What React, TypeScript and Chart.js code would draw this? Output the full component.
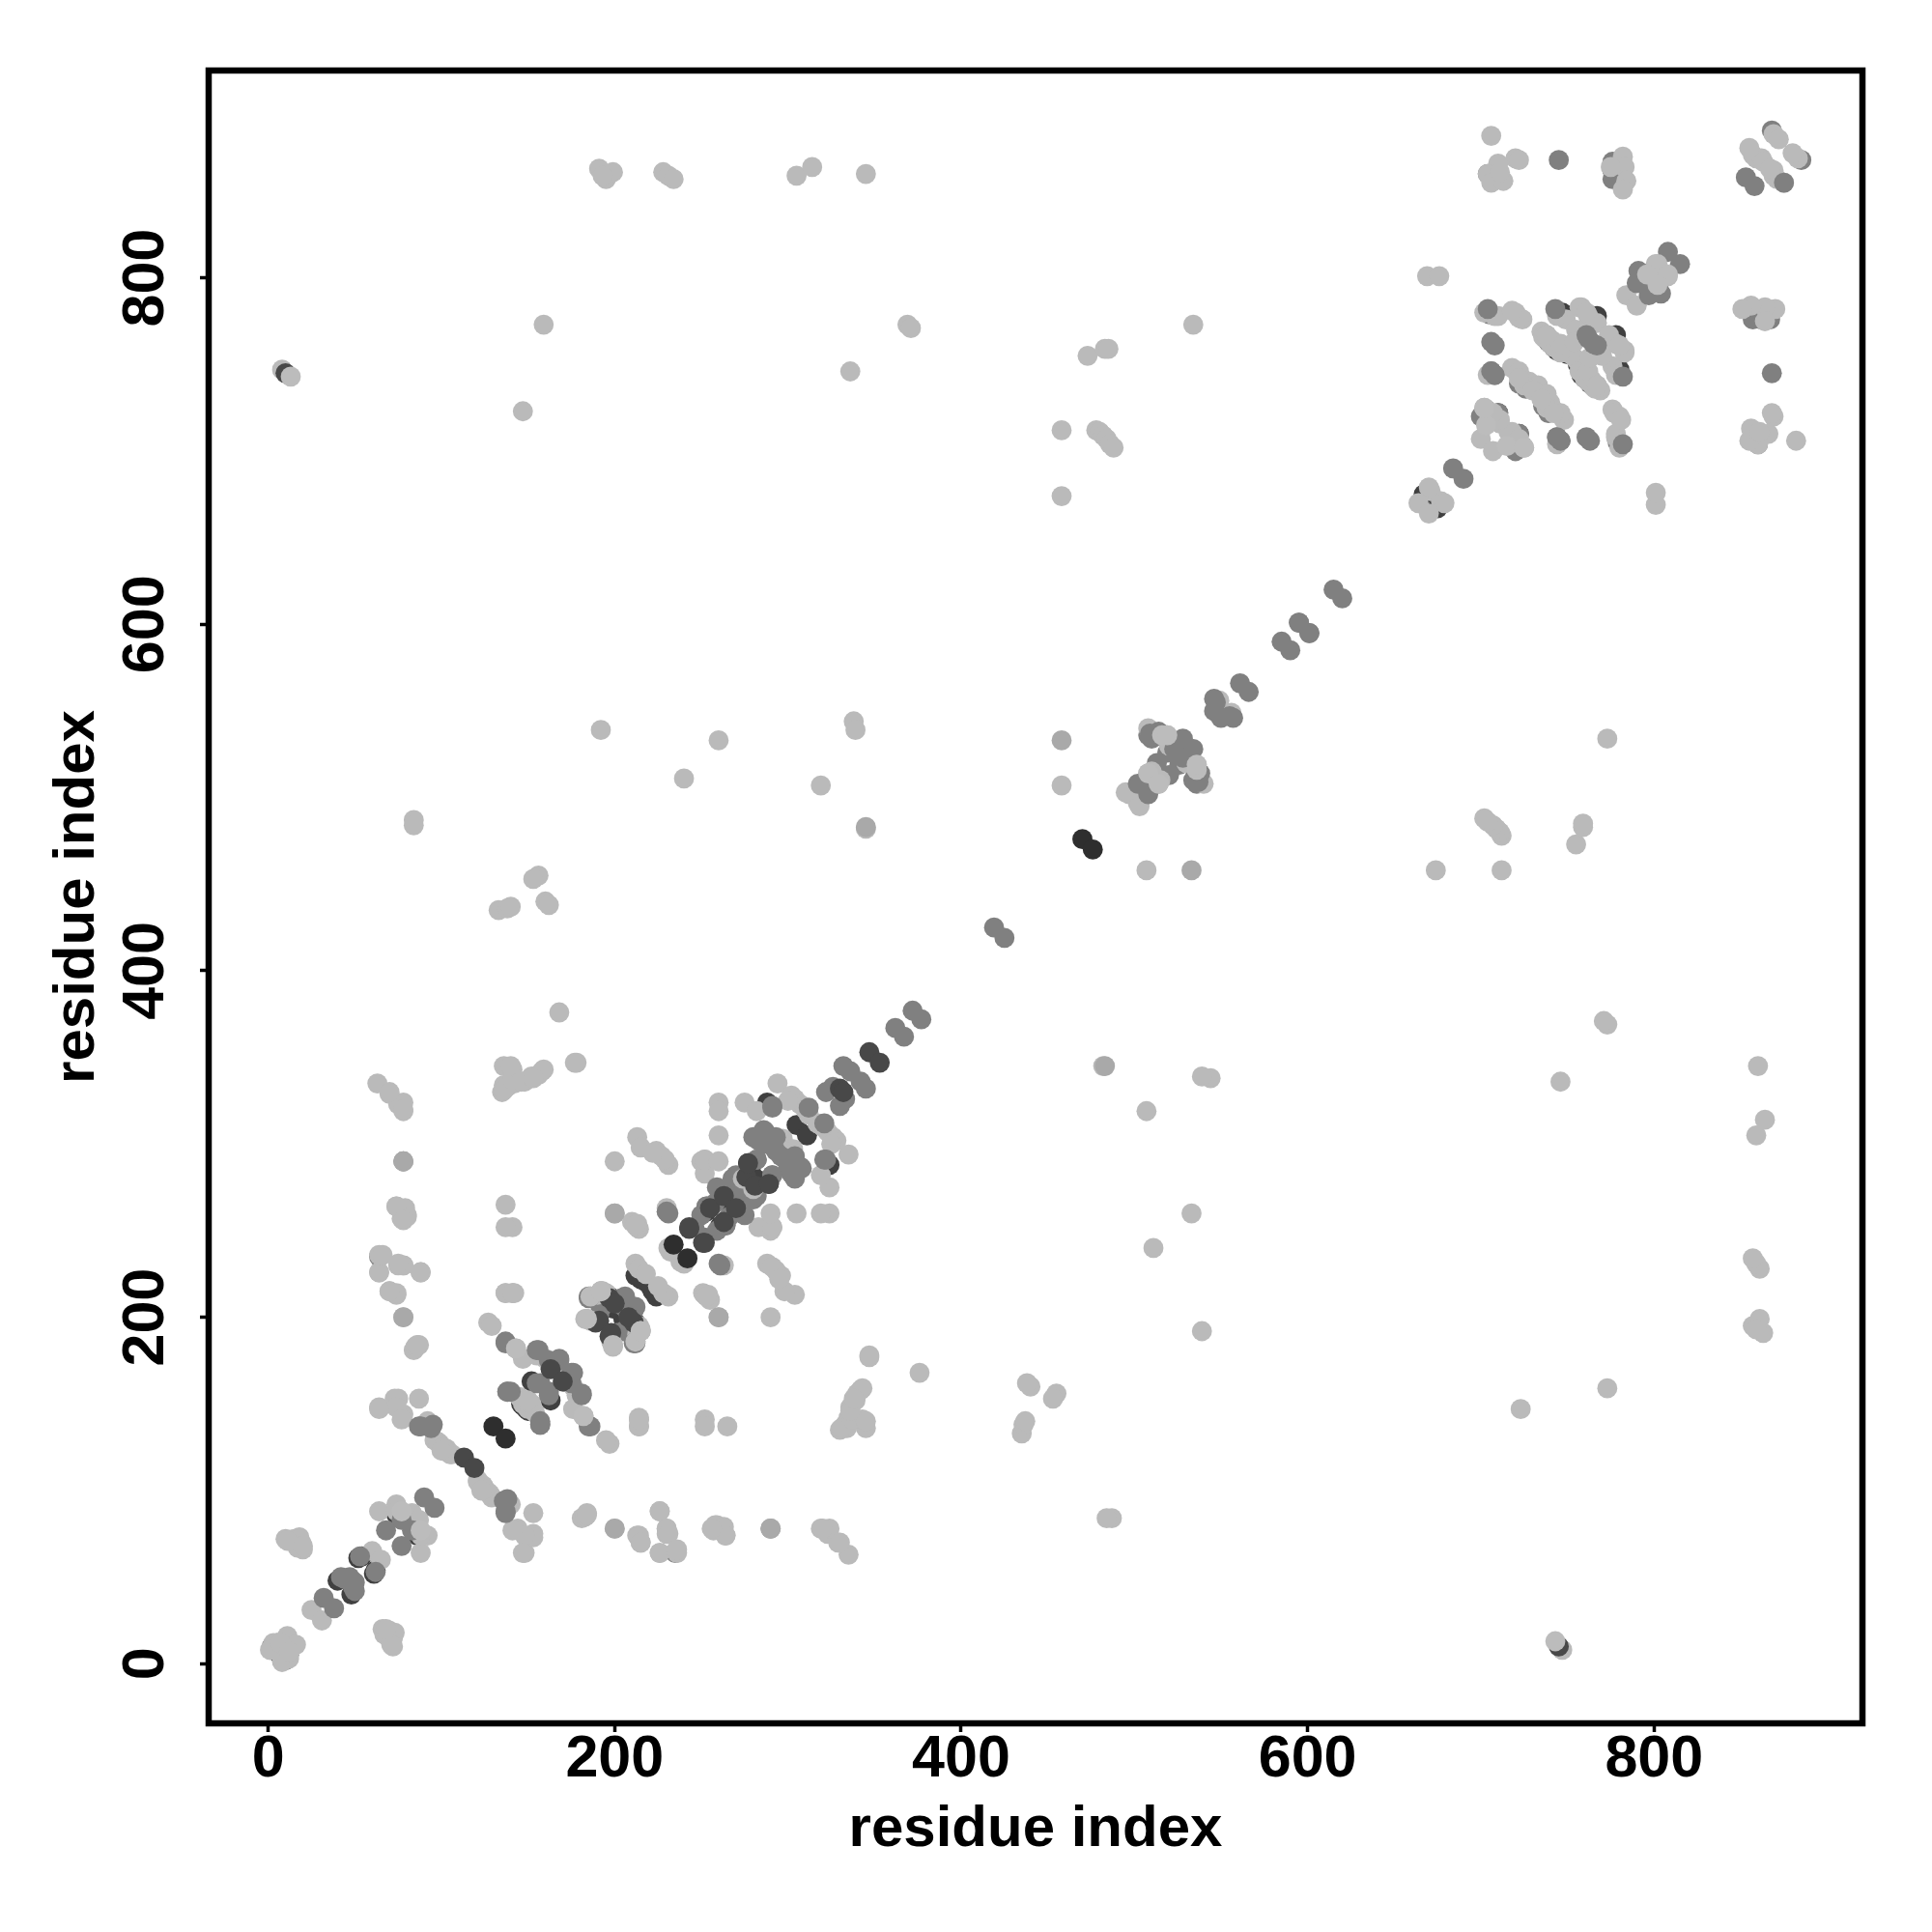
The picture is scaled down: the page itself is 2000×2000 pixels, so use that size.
import React, { useEffect, useRef } from "react";
import { Chart, registerables } from "chart.js";

Chart.register(...registerables);

type Pair = [number, number];

const xTicks = [0, 200, 400, 600, 800];
const yTicks = [0, 200, 400, 600, 800];
const axisTitle = "residue index";

// Contacts (i, j) with i < j; the map is symmetric, so each is drawn at (i, j) and (j, i).
const darkBase: Pair[] = [
  [710, 722], [747, 780], [767, 778], [667, 675], [706, 858], [776, 862], [76, 84], [74, 86], [52, 61], [54, 62],
  [40, 48], [2, 8], [5, 7], [212, 224], [215, 222], [217, 221], [197, 212], [204, 210], [199, 205], [190, 199],
  [284, 305], [288, 324], [305, 311], [253, 261], [263, 271], [277, 289], [279, 283], [264, 268], [146, 150],
  [163, 171], [147, 149], [152, 163], [739, 763], [742, 760], [744, 758], [756, 750],
];
const midBase: Pair[] = [
  [705, 779], [708, 744], [700, 720], [703, 724], [746, 706], [722, 739], [726, 736], [710, 722], [718, 710],
  [853, 858], [704, 860], [776, 867], [776, 857], [868, 885], [794, 801], [797, 800], [548, 553], [798, 803],
  [595, 601], [185, 212], [138, 157], [191, 201], [250, 259], [270, 282], [283, 302], [300, 288], [192, 205],
  [64, 235], [2, 10], [5, 12], [246, 252], [258, 266], [268, 280], [204, 211], [204, 207], [206, 212],
  [269, 273], [275, 282], [513, 520], [519, 526], [513, 508], [508, 536],
];
const light: Pair[] = [
  [191, 863], [195, 857], [199, 861], [193, 859], [228, 861], [231, 859], [234, 857], [305, 859], [314, 864], [345, 860],
  [706, 882], [720, 869], [722, 868], [710, 866], [704, 860], [706, 855], [713, 856], [711, 861],
  [782, 870], [783, 864], [775, 864], [784, 856], [782, 851], [869, 883], [872, 880], [857, 871], [859, 869], [862, 869], [863, 867], [855, 875],
  [669, 801], [676, 801], [801, 808], [784, 790], [802, 805],
  [710, 778], [720, 780], [724, 776], [718, 748], [722, 746], [725, 741], [728, 740], [733, 738], [725, 738], [722, 742], [730, 735],
  [704, 723], [711, 716], [700, 707], [718, 711], [722, 707], [702, 725], [744, 704], [778, 708], [777, 722], [781, 718], [780, 702],
  [749, 776], [758, 783], [762, 778], [767, 774], [783, 757], [780, 761], [770, 755], [744, 778],
  [735, 769], [738, 767], [741, 764], [744, 762], [747, 760], [750, 757], [753, 755], [737, 765], [742, 760], [746, 757], [736, 766], [740, 762],
  [671, 677], [670, 679], [664, 670],
  [8, 747], [159, 773], [147, 723], [369, 773], [371, 771], [336, 746], [473, 755], [483, 759], [485, 759], [534, 773],
  [458, 712], [458, 674], [478, 712], [480, 711], [482, 709], [484, 707], [486, 704], [488, 702],
  [192, 539], [260, 533], [240, 511], [319, 507], [338, 544], [339, 539], [345, 482], [458, 507], [84, 487], [84, 484],
  [156, 455], [153, 453], [160, 440], [162, 438], [133, 435], [138, 436], [140, 437], [168, 376], [177, 347],
  [136, 345], [141, 343], [158, 342], [156, 340], [148, 336], [142, 335], [138, 333], [135, 330], [136, 334], [152, 339], [159, 343],
  [63, 335], [70, 329], [75, 323], [78, 324], [78, 319], [74, 264], [78, 259], [80, 259], [77, 257],
  [64, 226], [75, 230], [78, 230], [88, 226], [70, 215], [74, 213], [87, 184], [84, 181], [85, 183],
  [137, 265], [141, 252], [137, 214], [142, 214], [127, 197], [129, 195],
  [200, 290], [200, 260], [213, 304], [215, 298], [224, 296], [227, 293], [231, 288], [229, 291], [222, 295],
  [210, 255], [214, 251], [213, 254], [230, 263], [250, 290], [252, 283], [252, 291], [213, 252], [212, 253],
  [294, 335], [275, 324], [282, 319], [260, 324], [260, 319], [260, 305], [252, 291], [260, 290],
  [302, 328], [304, 326], [307, 323], [310, 320], [312, 317], [300, 325], [295, 303], [301, 297],
  [297, 303], [296, 297], [231, 240], [238, 232], [230, 261], [274, 280],
  [212, 231], [214, 228], [218, 225], [193, 215], [190, 213], [195, 214], [184, 199], [186, 198], [192, 215], [199, 183],
  [143, 182], [147, 176], [155, 178], [145, 154], [150, 147], [148, 151], [152, 150], [160, 176], [165, 171],
  [92, 140], [96, 129], [99, 127], [103, 124], [106, 121], [98, 128], [105, 121], [101, 125], [100, 123],
  [64, 88], [74, 92], [74, 88], [83, 87], [60, 65], [25, 31], [11, 16], [5, 9], [3, 12], [1, 8], [7, 12],
  [10, 72], [15, 72], [19, 70], [20, 66], [17, 67], [18, 73], [11, 71], [20, 68],
  [64, 148], [75, 153], [73, 153], [87, 153], [78, 144], [74, 148], [77, 141], [64, 147], [141, 214], [137, 252],
  [86, 184], [78, 200], [74, 214], [70, 215], [88, 226], [78, 230], [75, 231], [64, 226], [64, 236], [66, 236],
  [80, 258], [79, 263], [74, 264], [78, 256], [78, 290], [78, 320], [70, 330],
  [178, 347], [136, 331], [141, 337], [140, 345], [146, 336], [153, 338], [214, 137], [214, 141],
  [497, 502], [508, 514], [516, 536], [520, 530], [519, 536], [503, 495], [510, 515], [508, 540], [549, 556],
  [762, 746], [767, 738], [763, 754],
];
const soft: Pair[] = [
  [78, 290], [458, 533], [345, 483], [290, 78], [78, 200], [260, 200],
];
const mid: Pair[] = [
  [745, 868], [808, 815], [791, 804], [790, 797],
  [708, 761], [708, 744], [746, 706], [763, 706], [782, 704], [782, 743], [762, 765], [767, 761],
  [684, 690], [372, 377], [362, 367], [332, 345], [336, 342], [326, 333], [322, 330], [312, 321], [291, 322],
  [280, 304], [286, 308], [293, 304], [287, 307], [291, 282], [282, 291], [296, 293], [287, 301], [231, 260], [264, 253],
  [275, 259], [230, 261], [321, 291], [87, 137], [95, 138], [136, 94], [137, 88], [90, 96], [68, 77], [77, 83],
  [53, 62], [42, 50], [47, 50], [44, 49], [32, 38], [137, 185], [156, 181], [168, 175], [176, 168], [162, 175], [181, 155],
  [138, 157], [157, 162], [162, 155], [157, 140], [186, 137], [212, 186], [185, 211],
  [615, 620], [595, 601], [585, 590], [561, 566], [546, 550], [547, 555], [546, 557],
  [502, 508], [510, 534], [514, 538], [523, 528], [528, 534], [509, 537],
  [419, 425], [253, 264],
];
const dark: Pair[] = [
  [113, 119], [347, 353], [243, 251], [255, 263], [263, 270], [276, 281], [277, 289],
  [197, 211], [189, 197], [191, 198], [208, 200], [163, 170], [243, 252], [330, 332], [10, 745],
];
const darkest: Pair[] = [
  [130, 137], [234, 242], [470, 476],
];
const lightTop: Pair[] = [
  [13, 743], [199, 184], [215, 192], [212, 186], [143, 182], [192, 215], [88, 77], [715, 703], [725, 702],
  [802, 808], [796, 802], [516, 536], [519, 536], [508, 514],
];
// A few contacts are shaded differently on the two sides of the diagonal.
const oneSidedX = [875];
const oneSidedY = [855];

const layers: [Pair[], string][] = [
  [darkBase, "#404040"],
  [midBase, "#808080"],
  [light, "#bababa"],
  [soft, "#a9a9a9"],
  [mid, "#808080"],
  [dark, "#484848"],
  [darkest, "#2e2e2e"],
  [lightTop, "#bcbcbc"],
];

const both = (pairs: Pair[]) =>
  pairs.flatMap(([i, j]) => [
    { x: i, y: j },
    { x: j, y: i },
  ]);

const FONT = '"Liberation Sans", Arial, sans-serif';

export default function App() {
  const ref = useRef<HTMLCanvasElement>(null);
  useEffect(() => {
    const frame = {
      id: "frame",
      afterDraw(chart: any) {
        const { ctx, chartArea: a } = chart;
        ctx.save();
        ctx.strokeStyle = "#000";
        ctx.lineWidth = 6.5;
        ctx.strokeRect(a.left, a.top, a.right - a.left, a.bottom - a.top);
        ctx.restore();
      },
    };
    const tickStyle = { drawOnChartArea: false, drawTicks: true, tickLength: 9, tickWidth: 3.5, tickColor: "#000" };
    const datasets: any[] = layers.map(([pairs, color], idx) => ({
      data: both(pairs),
      backgroundColor: color,
      borderWidth: 0,
      pointRadius: 10.4,
      pointHoverRadius: 10.4,
      order: layers.length - idx + 1,
    }));
    datasets.push({
      data: oneSidedX.map((x, k) => ({ x, y: oneSidedY[k] })),
      backgroundColor: "#808080",
      borderWidth: 0,
      pointRadius: 10.4,
      pointHoverRadius: 10.4,
      order: 0,
    });
    const chart = new Chart(ref.current as HTMLCanvasElement, {
      type: "scatter",
      data: { datasets },
      options: {
        animation: false,
        responsive: false,
        events: [],
        layout: { padding: { top: 73, right: 72, left: 0, bottom: 0 } },
        plugins: { legend: { display: false }, tooltip: { enabled: false }, title: { display: false } },
        scales: {
          x: {
            type: "linear",
            min: -34.4,
            max: 920.3,
            afterFit(s: any) { s.height = 216; },
            afterBuildTicks(s: any) { s.ticks = xTicks.map((value) => ({ value })); },
            grid: tickStyle,
            border: { display: false },
            ticks: { color: "#000", maxRotation: 0, minRotation: 0, padding: -7, font: { family: FONT, weight: "bold", size: 61 } },
            title: { display: true, text: axisTitle, color: "#000", padding: { top: 0, bottom: 70 }, font: { family: FONT, weight: "bold", size: 60 } },
          },
          y: {
            type: "linear",
            min: -34.4,
            max: 919.7,
            afterFit(s: any) { s.width = 216; },
            afterBuildTicks(s: any) { s.ticks = yTicks.map((value) => ({ value })); },
            grid: tickStyle,
            border: { display: false },
            ticks: { color: "#000", minRotation: 90, maxRotation: 90, padding: 4, crossAlign: "center", font: { family: FONT, weight: "bold", size: 61 } },
            title: { display: true, text: axisTitle, color: "#000", padding: { top: 44, bottom: 0 }, font: { family: FONT, weight: "bold", size: 60 } },
          },
        },
      },
      plugins: [frame],
    } as any);
    return () => chart.destroy();
  }, []);
  return (
    <canvas
      ref={ref}
      width={2000}
      height={2000}
      style={{ position: "absolute", left: 0, top: 0, display: "block", background: "#fff" }}
    />
  );
}
